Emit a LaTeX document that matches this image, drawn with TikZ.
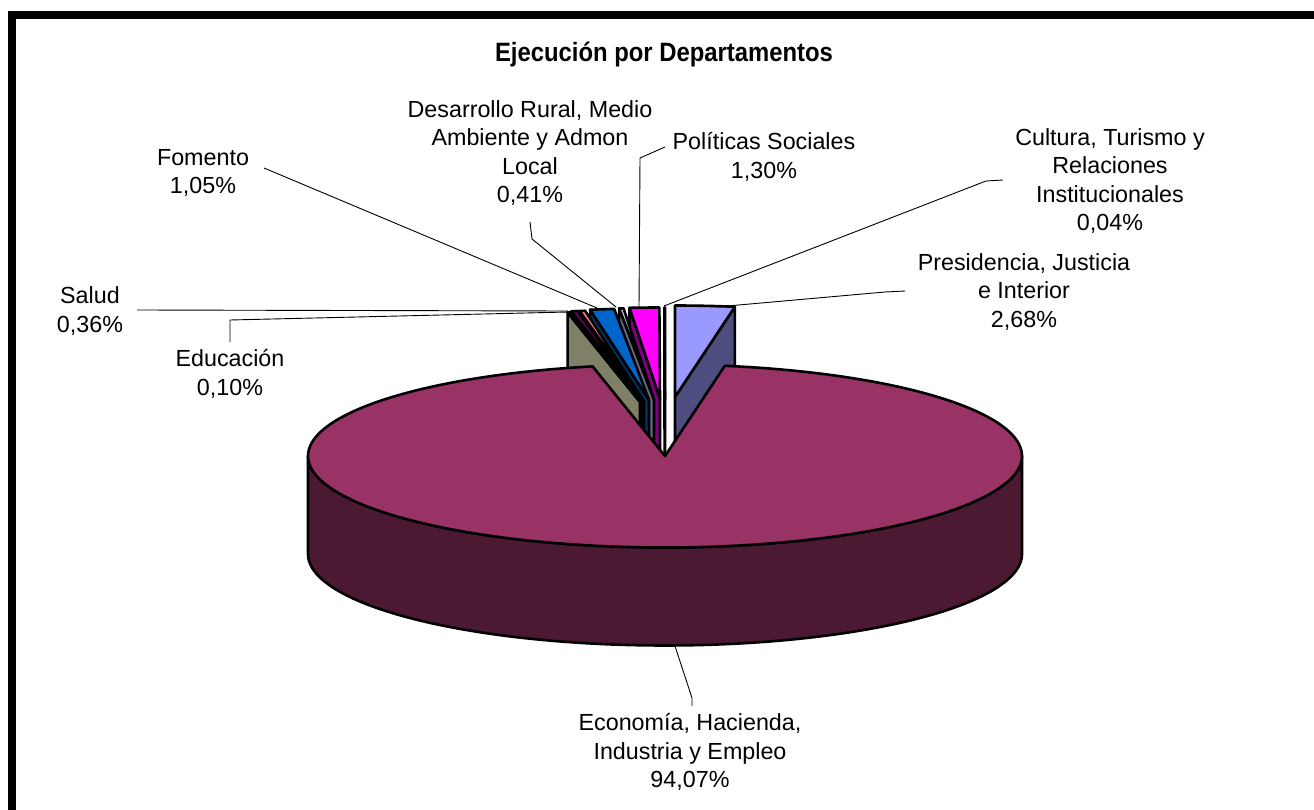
\documentclass[tikz,border=0pt]{standalone}
\usepackage{fontspec}
\setmainfont{Liberation Sans}
\newfontfamily\labfont{Liberation Sans}
\newfontfamily\titfont[FakeStretch=0.9]{Liberation Sans}
\definecolor{ecotop}{HTML}{993366}
\definecolor{ecoside}{HTML}{4C1933}
\definecolor{pretop}{HTML}{9999FF}
\definecolor{preside}{HTML}{4D4D80}
\definecolor{edutop}{HTML}{FFFFCC}
\definecolor{eduside}{HTML}{808066}
\definecolor{saltop}{HTML}{660066}
\definecolor{salside}{HTML}{330033}
\definecolor{smntop}{HTML}{FF8080}
\definecolor{smnside}{HTML}{804040}
\definecolor{fomtop}{HTML}{0066CC}
\definecolor{fomside}{HTML}{003366}
\definecolor{destop}{HTML}{CCCCFF}
\definecolor{desside}{HTML}{666680}
\definecolor{poltop}{HTML}{FF00FF}
\definecolor{polside}{HTML}{800080}
\definecolor{cultop}{HTML}{FFFFFF}
\definecolor{culside}{HTML}{808080}
\def\cx{665}\def\cy{456}\def\rx{357}\def\ry{91.5}\def\dep{98}
% #1 t1, #2 t2, #3 ox, #4 oy, #5 top colour, #6 side colour, #7 visible cut angle
\newcommand\mkslice[7]{%
  \filldraw[fill=#6, pieline] ({\cx+#3},{\cy+#4}) -- ({\cx+#3+\rx*sin(#7)},{\cy+#4-\ry*cos(#7)})
    -- ({\cx+#3+\rx*sin(#7)},{\cy+#4-\ry*cos(#7)+\dep}) -- ({\cx+#3},{\cy+#4+\dep}) -- cycle;
  \filldraw[fill=#5, pieline] ({\cx+#3},{\cy+#4}) -- plot[domain=#1:#2, samples=12]
    ({\cx+#3+\rx*sin(\x)},{\cy+#4-\ry*cos(\x)}) -- cycle;
}
\begin{document}
\begin{tikzpicture}[x=1pt, y=-1pt,
  pieline/.style={draw=black, line width=2.6pt, line join=round},
  leader/.style={draw=black, line width=0.9pt},
  lab/.style={inner sep=0pt, align=center, font=\labfont\fontsize{23.3}{28.3}\selectfont},
  titlab/.style={inner sep=0pt, font=\titfont\bfseries\fontsize{26.5}{30}\selectfont}]
\useasboundingbox (0,0) rectangle (1314,810);
\fill[white] (0,0) rectangle (1314,810);
% frame
\fill[black] (8,11) rectangle (1314,19);
\fill[black] (8,11) rectangle (16,810);

\node[titlab] (title) at (664,55) {Ejecución por Departamentos};

% exploded small slices (back to front)
\mkslice{-0.1}{0}{0}{-57}{cultop}{culside}{-0.1}
\mkslice{-4.9}{-0.1}{-5}{-57}{poltop}{polside}{-4.9}
\mkslice{-5.6}{-4.9}{-11}{-56.5}{destop}{desside}{-5.6}
\mkslice{-9.5}{-5.6}{-16}{-56}{fomtop}{fomside}{-9.5}
\mkslice{-10.4}{-9.5}{-21}{-55}{smntop}{smnside}{-10.4}
\mkslice{-11.4}{-10.4}{-23}{-55}{saltop}{salside}{-11.4}
\mkslice{-11.7}{-11.4}{-25}{-54}{edutop}{eduside}{-11.7}
\mkslice{0}{9.65}{10}{-59}{pretop}{preside}{9.65}

% main slice: side wall then top face
\filldraw[fill=ecoside, pieline]
  plot[domain=90:270, samples=120] ({\cx+\rx*sin(\x)},{\cy-\ry*cos(\x)})
  -- plot[domain=270:90, samples=120] ({\cx+\rx*sin(\x)},{\cy-\ry*cos(\x)+\dep}) -- cycle;
\filldraw[fill=ecotop, pieline] (\cx,\cy) --
  plot[domain=9.65:348.3, samples=200] ({\cx+\rx*sin(\x)},{\cy-\ry*cos(\x)}) -- cycle;

% labels
\node[lab] (des) at (530,153) {Desarrollo Rural, Medio\\Ambiente y Admon\\Local\\0,41\%};
\node[lab] (pol) at (764,157) {Políticas Sociales\\1,30\%};
\node[lab] (fom) at (203,173) {Fomento\\1,05\%};
\node[lab] (cul) at (1110,181) {Cultura, Turismo y\\Relaciones\\Institucionales\\0,04\%};
\node[lab] (pre) at (1024,292) {Presidencia, Justicia\\e Interior\\2,68\%};
\node[lab] (sal) at (90,311) {Salud\\0,36\%};
\node[lab] (edu) at (230,374) {Educación\\0,10\%};
\node[lab] (eco) at (690,752) {Economía, Hacienda,\\Industria y Empleo\\94,07\%};

% leader line points
\coordinate (fomA) at (264,168);   \coordinate (fomB) at (597,308);
\coordinate (desA) at (530,222);   \coordinate (desM) at (532,239);  \coordinate (desB) at (616,307);
\coordinate (polA) at (665,147);   \coordinate (polM) at (640,158);  \coordinate (polB) at (639,307);
\coordinate (culA) at (1003,180);  \coordinate (culM) at (986,181);  \coordinate (culB) at (664,306);
\coordinate (preA) at (905,291);   \coordinate (preM) at (885,292);  \coordinate (preB) at (716,307);
\coordinate (salA) at (137,310);   \coordinate (salB) at (568,311);
\coordinate (eduA) at (230,342);   \coordinate (eduM) at (230,320);  \coordinate (eduB) at (568,312);
\coordinate (ecoA) at (675,646);   \coordinate (ecoM) at (692,698);  \coordinate (ecoB) at (692,706);

\draw[leader] (fomA) -- (fomB);
\draw[leader] (desA) -- (desM) -- (desB);
\draw[leader] (polA) -- (polM) -- (polB);
\draw[leader] (culA) -- (culM) -- (culB);
\draw[leader] (preA) -- (preM) -- (preB);
\draw[leader] (salA) -- (salB);
\draw[leader] (eduA) -- (eduM) -- (eduB);
\draw[leader] (ecoA) -- (ecoM) -- (ecoB);
\end{tikzpicture}
\end{document}
